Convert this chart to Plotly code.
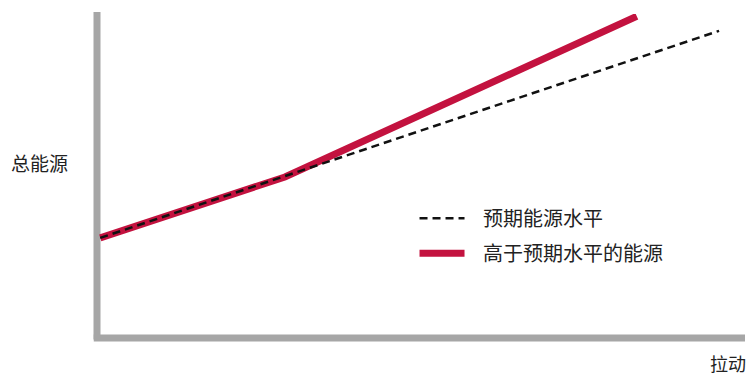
import plotly.graph_objects as go

# Data (conceptual units: x = pull, y = total energy, both 0-100)
expected_x = [0.5, 96.0]
expected_y = [30.9, 94.8]
above_x = [0.5, 29.0, 83.3]
above_y = [30.9, 49.7, 99.3]

series_names = ["预期能源水平", "高于预期水平的能源"]
y_title = "总能源"
x_title = "拉动"

FONT = "Noto Sans CJK SC"
AXIS_GRAY = "#a6a6a6"
RED = "#c3123f"
PAD = "\u00a0\u00a0\u00a0"

fig = go.Figure()
fig.add_trace(go.Scatter(
    x=above_x, y=above_y, mode="lines", name=PAD + series_names[1],
    line=dict(color=RED, width=7), legendrank=2, legendgroup="b",
))
fig.add_trace(go.Scatter(
    x=expected_x, y=expected_y, mode="lines", name=PAD + series_names[0],
    line=dict(color="#111111", width=2.5, dash="8px,5px"), legendrank=1, legendgroup="a",
))

fig.update_layout(
    width=748, height=375,
    margin=dict(l=97, r=3, t=14, b=37),
    paper_bgcolor="white", plot_bgcolor="white",
    font=dict(family=FONT, size=19, color="#222222"),
    xaxis=dict(range=[0, 100], visible=False, fixedrange=True),
    yaxis=dict(range=[0, 100], visible=False, fixedrange=True),
    showlegend=True,
    legend=dict(x=0.49, y=0.43, xanchor="left", yanchor="top",
                bgcolor="rgba(0,0,0,0)", font=dict(size=20, family=FONT, color="#222222"),
                tracegroupgap=6, itemwidth=45),
    shapes=[
        dict(type="line", xref="paper", yref="paper", x0=0, x1=0, y0=-0.005, y1=1.006,
             line=dict(color=AXIS_GRAY, width=7), layer="below"),
        dict(type="line", xref="paper", yref="paper", x0=-0.005, x1=1.0, y0=0, y1=0,
             line=dict(color=AXIS_GRAY, width=7), layer="below"),
    ],
    annotations=[
        dict(text=y_title, xref="paper", yref="paper", x=-0.088, y=0.543,
             showarrow=False, xanchor="center", yanchor="middle", font=dict(size=19)),
        dict(text=x_title, xref="paper", yref="paper", x=0.973, y=-0.077,
             showarrow=False, xanchor="center", yanchor="middle", font=dict(size=18)),
    ],
)

fig.write_html(
    "out.html",
    config={"displayModeBar": False, "staticPlot": True},
    post_script="document.body.style.margin='0px';document.body.style.overflow='hidden';",
)
